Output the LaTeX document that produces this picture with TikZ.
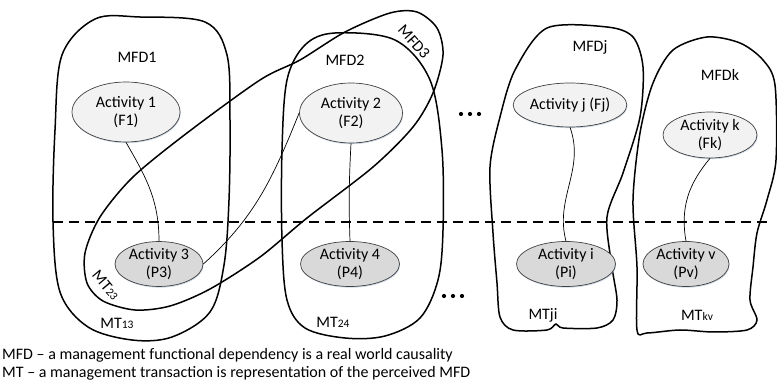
\documentclass[tikz,border=0pt]{standalone}
\usepackage{fontspec}
\setmainfont{Carlito}
\usetikzlibrary{shapes.geometric,shadows}
\definecolor{upfill}{HTML}{F2F2F2}
\definecolor{lowfill}{HTML}{D9D9D9}
\definecolor{edgegray}{HTML}{404040}
\definecolor{shadowblue}{HTML}{9DB3CF}
\newcommand{\subs}[1]{{\fontsize{11.5}{11.5}\selectfont #1}}
\begin{document}
\begin{tikzpicture}[x=1pt,y=1pt,
  font=\fontsize{16}{18.5}\selectfont,
  act/.style={ellipse,draw=edgegray,line width=0.7pt,align=center,inner sep=0pt,
    drop shadow={shadow xshift=0.6pt,shadow yshift=-1.2pt,fill=shadowblue,opacity=0.5}},
  upper/.style={act,fill=upfill},
  lower/.style={act,fill=lowfill},
  blob/.style={line width=1.5pt,smooth cycle,tension=0.55},
  link/.style={line width=0.7pt},
  lbl/.style={inner sep=0pt}]
\useasboundingbox (0,0) rectangle (777,-387);

% boundary between the functional and the perceived level
\draw[line width=1.2pt,dash pattern=on 10pt off 6pt] (53,-222) -- (767,-222);

% MFD1 / MT13
\draw[blob] plot coordinates {(140,-17) (205,-22) (227,-55) (230,-120) (229,-200) (224,-265)
  (210,-312) (172,-337) (132,-340) (88,-327) (60,-292) (53,-222) (55,-130) (62,-55) (95,-19)};
% MFD2 / MT24
\draw[blob] plot coordinates {(335,-33) (395,-40) (430,-80) (442,-150) (443,-230) (438,-280)
  (420,-318) (385,-336) (345,-338) (305,-328) (287,-300) (282,-240) (282,-150) (287,-80) (305,-45)};
% MFD3 / MT23
\draw[blob,tension=0.5] plot coordinates {(260,-80) (187,-133) (133,-177) (100,-217) (85,-253) (87,-283)
  (103,-301) (135,-310) (170,-306) (210,-289) (260,-257) (307,-218) (373,-167) (413,-127)
  (433,-93) (443,-55) (437,-28) (417,-12) (390,-13) (345,-32) (300,-60)};
% MFDj / MTji
\draw[blob,tension=0.5] plot coordinates {(547,-28) (607,-27) (633,-37) (643,-67) (640,-117) (623,-173)
  (607,-217) (612,-267) (617,-300) (613,-320) (597,-328) (563,-328) (556,-324) (547,-330)
  (513,-330) (500,-317) (497,-283) (493,-233) (490,-167) (500,-117) (515,-70)};
% MFDk / MTkv
\draw[blob,tension=0.5] plot coordinates {(707,-37) (740,-43) (763,-60) (775,-85) (776,-160) (767,-200)
  (757,-233) (753,-267) (750,-300) (757,-320) (747,-330) (713,-332) (680,-330) (647,-333)
  (637,-330) (637,-267) (633,-200) (640,-133) (653,-83) (673,-50)};

% activities
\node[upper,minimum width=108pt,minimum height=60pt] (a1) at (126,-112) {Activity 1\\(F1)};
\node[lower,minimum width=88pt,minimum height=44pt] (a3) at (159,-264) {Activity 3\\(P3)};
\node[upper,minimum width=103pt,minimum height=60pt] (a2) at (351,-113) {Activity 2\\(F2)};
\node[lower,minimum width=99pt,minimum height=45pt] (a4) at (350,-264) {Activity 4\\(P4)};
\node[upper,minimum width=107pt,minimum height=44pt] (aj) at (570,-105) {Activity j (Fj)};
\node[lower,minimum width=99pt,minimum height=45pt] (ai) at (566,-264) {Activity i\\(Pi)};
\node[upper,minimum width=94pt,minimum height=46pt] (ak) at (710,-135) {Activity k\\(Fk)};
\node[lower,minimum width=86pt,minimum height=45pt] (av) at (686,-264) {Activity v\\(Pv)};

% dependencies between activities
\draw[link] (a1.south) to[out=-60,in=90] (a3.north);
\draw[link] (a3.east) to[out=42,in=-112] (a2.west);
\draw[link] (a2.south) to[out=-93,in=92] (a4.north);
\draw[link] (aj.south) to[out=-70,in=105] (ai.north);
\draw[link] (ak.south) to[out=-130,in=100] (av.north);

% labels
\node[lbl] (l1) at (137,-57) {MFD1};
\node[lbl] (l2) at (345,-60) {MFD2};
\node[lbl,rotate=-48] (l3) at (414,-42) {MFD3};
\node[lbl] (lj) at (590,-47) {MFDj};
\node[lbl] (lk) at (720,-75) {MFDk};
\node[lbl] (t13) at (117,-323) {MT\subs{13}};
\node[lbl,rotate=-50] (t23) at (106,-285) {MT\subs{23}};
\node[lbl] (t24) at (333,-322) {MT\subs{24}};
\node[lbl] (tji) at (543,-315) {MTji};
\node[lbl] (tkv) at (697,-315) {MT\subs{kv}};

% ellipsis marks
\foreach \x in {461,470,479} \fill (\x,-114) circle (2.1pt);
\foreach \x in {444,453,462} \fill (\x,-296) circle (2.1pt);

% legend
\node[lbl,anchor=west] (c1) at (2,-355) {MFD -- a management functional dependency is a real world causality};
\node[lbl,anchor=west] (c2) at (2,-373) {MT -- a management transaction is representation of the perceived MFD};
\end{tikzpicture}
\end{document}
